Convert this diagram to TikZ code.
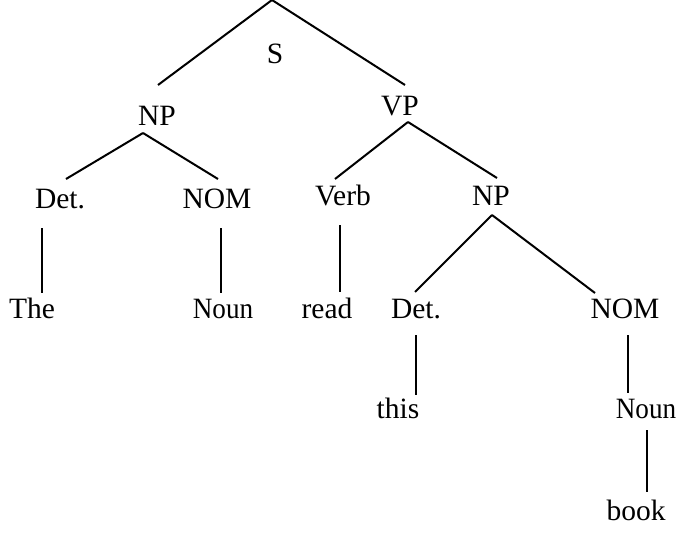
\documentclass[tikz,border=0pt]{standalone}
\usepackage{fontspec}
\setmainfont{Liberation Serif}
\begin{document}
\begin{tikzpicture}[x=1pt,y=-1pt,
  lbl/.style={anchor=base,inner sep=0pt,font=\fontsize{29.5}{30}\selectfont},
  tight/.style={xscale=0.92},
  branch/.style={line width=2pt,line cap=butt}]
\useasboundingbox (0,0) rectangle (678,533);
% labels
\node[lbl] (s)     at (275,63)  {S};
\node[lbl] (np1)   at (157,125) {NP};
\node[lbl] (vp)    at (400,115) {VP};
\node[lbl] (det1)  at (60,208)  {Det.};
\node[lbl] (nom1)  at (217,208) {NOM};
\node[lbl] (verb)  at (343,205) {Verb};
\node[lbl] (np2)   at (491,205) {NP};
\node[lbl] (the)   at (32,318)  {The};
\node[lbl,tight] (noun1) at (223,318) {Noun};
\node[lbl] (read)  at (327,318) {read};
\node[lbl] (det2)  at (416,318) {Det.};
\node[lbl] (nom2)  at (625,318) {NOM};
\node[lbl] (this)  at (398,418) {this};
\node[lbl,tight] (noun2) at (646,418) {Noun};
\node[lbl] (book)  at (636,520) {book};
% connector end points
\coordinate (sTop)    at (272,0);
\coordinate (np1Up)   at (158,85);
\coordinate (vpUp)    at (405,85);
\coordinate (np1Dn)   at (143,133);
\coordinate (det1Up)  at (66,179);
\coordinate (nom1Up)  at (218,179);
\coordinate (vpDn)    at (408,122);
\coordinate (verbUp)  at (335,179);
\coordinate (np2Up)   at (497,178);
\coordinate (det1Dn)  at (42,228);
\coordinate (theUp)   at (42,293);
\coordinate (nom1Dn)  at (221,228);
\coordinate (noun1Up) at (221,293);
\coordinate (verbDn)  at (340,225);
\coordinate (readUp)  at (340,292);
\coordinate (np2Dn)   at (492,215);
\coordinate (det2Up)  at (415,292);
\coordinate (nom2Up)  at (595,293);
\coordinate (det2Dn)  at (416,335);
\coordinate (thisUp)  at (416,395);
\coordinate (nom2Dn)  at (628,335);
\coordinate (noun2Up) at (628,393);
\coordinate (noun2Dn) at (647,430);
\coordinate (bookUp)  at (647,492);
% connectors
\draw[branch] (sTop) -- (np1Up);
\draw[branch] (sTop) -- (vpUp);
\draw[branch] (np1Dn) -- (det1Up);
\draw[branch] (np1Dn) -- (nom1Up);
\draw[branch] (vpDn) -- (verbUp);
\draw[branch] (vpDn) -- (np2Up);
\draw[branch] (det1Dn) -- (theUp);
\draw[branch] (nom1Dn) -- (noun1Up);
\draw[branch] (verbDn) -- (readUp);
\draw[branch] (np2Dn) -- (det2Up);
\draw[branch] (np2Dn) -- (nom2Up);
\draw[branch] (det2Dn) -- (thisUp);
\draw[branch] (nom2Dn) -- (noun2Up);
\draw[branch] (noun2Dn) -- (bookUp);
\end{tikzpicture}
\end{document}
